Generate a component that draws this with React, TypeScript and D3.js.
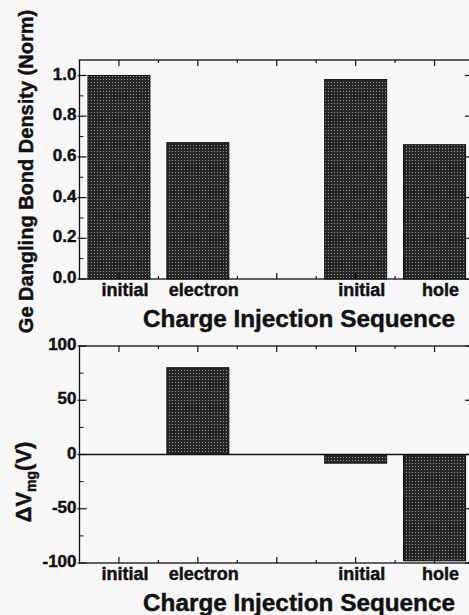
import React from "react";
import * as d3 from "d3";

const slotLabels = ["initial", "electron", "initial", "hole"];
const barSlots = [0, 1, 3, 4];
const densityValues = [1.0, 0.67, 0.98, 0.66];
const vmgValues = [0, 80, -8, -98];
const densityTicks = [0, 0.2, 0.4, 0.6, 0.8, 1.0];
const densityMinor = [0.1, 0.3, 0.5, 0.7, 0.9];
const vmgTicks = [-100, -50, 0, 50, 100];
const vmgMinor = [-75, -25, 25, 75];
const xTitle = "Charge Injection Sequence";
const yTitleTop = "Ge Dangling Bond Density (Norm)";

const W = 469;
const H = 615;
const FONT = "'Liberation Sans', Arial, Helvetica, sans-serif";
const LEFT = 79.5;
const RIGHT = 470;
const INK = "#111";
const TS = 0.45; // text stroke to mimic heavy print

const x = d3.scaleLinear().domain([0, 5]).range([LEFT, 474]);
const xTickVals = d3.range(0.5, 5, 0.5);
const barW = 62;

type PanelProps = {
  values: number[];
  y: d3.ScaleLinear<number, number>;
  top: number;
  bottom: number;
  ticks: number[];
  minor: number[];
  fmt: (v: number) => string;
  zeroLine?: boolean;
};

function Panel({ values, y, top, bottom, ticks, minor, fmt, zeroLine }: PanelProps) {
  return (
    <g>
      {values.map((v, i) => {
        const cx = x(barSlots[i] + 0.5);
        const y0 = y(Math.max(0, v));
        const y1 = y(Math.min(0, v));
        if (y1 - y0 < 0.5) return null;
        return (
          <rect
            key={i}
            x={cx - barW / 2}
            y={y0}
            width={barW}
            height={y1 - y0}
            fill="url(#stip)"
            stroke={INK}
            strokeWidth={1}
          />
        );
      })}
      {zeroLine && (
        <line x1={LEFT} x2={RIGHT} y1={y(0)} y2={y(0)} stroke={INK} strokeWidth={1.3} />
      )}
      <rect x={LEFT} y={top} width={RIGHT - LEFT} height={bottom - top} fill="none" stroke={INK} strokeWidth={1.3} />
      {xTickVals.map((t) => {
        const major = Math.abs((t - 0.5) % 1) < 1e-6;
        const len = major ? 6 : 3;
        const px = x(t);
        return (
          <g key={t}>
            <line x1={px} x2={px} y1={top} y2={top + len} stroke={INK} strokeWidth={1.2} />
            <line x1={px} x2={px} y1={bottom} y2={bottom - len} stroke={INK} strokeWidth={1.2} />
          </g>
        );
      })}
      {ticks.map((t) => (
        <g key={t}>
          <line x1={LEFT - 2} x2={LEFT + 7} y1={y(t)} y2={y(t)} stroke={INK} strokeWidth={1.2} />
          <line x1={RIGHT} x2={RIGHT - 5} y1={y(t)} y2={y(t)} stroke={INK} strokeWidth={1.2} />
          <text
            x={LEFT - 3}
            y={y(t) + 4}
            textAnchor="end"
            fontFamily={FONT}
            fontWeight="bold"
            fontSize={17}
            fill={INK}
            stroke={INK}
            strokeWidth={TS}
          >
            {fmt(t)}
          </text>
        </g>
      ))}
      {minor.map((t) => (
        <line key={t} x1={LEFT} x2={LEFT + 4} y1={y(t)} y2={y(t)} stroke={INK} strokeWidth={1} />
      ))}
      {slotLabels.map((lab, i) => (
        <text
          key={i}
          x={x(barSlots[i] + 0.5) + 6}
          y={bottom + 17}
          textAnchor="middle"
          fontFamily={FONT}
          fontWeight="bold"
          fontSize={18}
          fill={INK}
          stroke={INK}
          strokeWidth={TS}
        >
          {lab}
        </text>
      ))}
      <text
        x={143}
        y={bottom + 48}
        fontFamily={FONT}
        fontWeight="bold"
        fontSize={24}
        textLength={312}
        lengthAdjust="spacingAndGlyphs"
        fill={INK}
        stroke={INK}
        strokeWidth={TS}
      >
        {xTitle}
      </text>
    </g>
  );
}

export default function App() {
  const yTop = d3.scaleLinear().domain([0, 1]).range([279, 75.5]);
  const yBot = d3.scaleLinear().domain([-100, 100]).range([563, 346]);
  return (
    <svg
      width={W}
      height={H}
      style={{ position: "absolute", left: 0, top: 0, background: "#f7f7f7" }}
    >
      <defs>
        <pattern id="stip" width={3} height={3} patternUnits="userSpaceOnUse">
          <rect width={3} height={3} fill="#262626" />
          <rect x={1} y={1} width={1} height={1} fill="#9a9a9a" />
        </pattern>
      </defs>
      <rect width={W} height={H} fill="#f7f7f7" />
      <Panel
        values={densityValues}
        y={yTop}
        top={60}
        bottom={279}
        ticks={densityTicks}
        minor={densityMinor}
        fmt={d3.format(".1f")}
      />
      <Panel
        values={vmgValues}
        y={yBot}
        top={346}
        bottom={563}
        ticks={vmgTicks}
        minor={vmgMinor}
        fmt={(v) => String(v)}
        zeroLine
      />
      <text
        transform="translate(33,171.5) rotate(-90)"
        textAnchor="middle"
        fontFamily={FONT}
        fontWeight="bold"
        fontSize={20}
        fill={INK}
        stroke={INK}
        strokeWidth={TS}
      >
        {yTitleTop}
      </text>
      <text
        transform="translate(31,482) rotate(-90)"
        textAnchor="middle"
        fontFamily={FONT}
        fontWeight="bold"
        fontSize={22}
        fill={INK}
        stroke={INK}
        strokeWidth={TS}
      >
        {"ΔV"}
        <tspan fontSize={14} dy={5}>mg</tspan>
        <tspan dy={-5}>(V)</tspan>
      </text>
    </svg>
  );
}
